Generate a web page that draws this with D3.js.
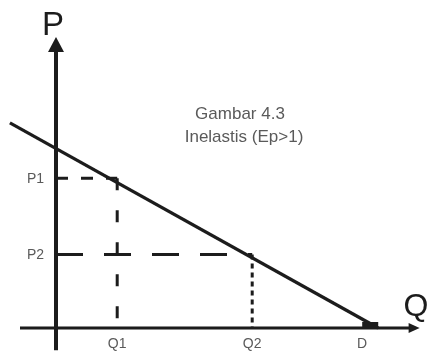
<!DOCTYPE html>
<html>
<head>
<meta charset="utf-8">
<script src="https://cdn.jsdelivr.net/npm/d3@7"></script>
<style>
  body { margin: 0; background: #fff; }
  svg { display: block; }
</style>
</head>
<body>
<svg id="chart" width="431" height="357"></svg>
<script>
// values (quantity on x, price on y)
var quantityLabels = ["Q1", "Q2", "D"],
    quantityValues = [1.7, 5.45, 8.5],
    priceLabels = ["P1", "P2"],
    priceValues = [5.2, 2.55],
    demandQ = [-1.28, 8.95],
    demandP = [7.12, 0],
    axisQ = [-1.0, 10.1],
    axisP = [-0.77, 10.1],
    titleLines = ["Gambar 4.3", "Inelastis (Ep>1)"];

var width = 431,
    height = 357,
    ink = "#1c1c1c",
    textGrey = "#5a5a5a";

var svg = d3.select("#chart");

// the source picture is a soft scan, so blur a little
svg.append("defs").append("filter")
    .attr("id", "soft")
    .append("feGaussianBlur")
    .attr("stdDeviation", 0.75);

var g = svg.append("g").attr("filter", "url(#soft)");

var x = d3.scaleLinear().domain([0, 10]).range([56, 416]),
    y = d3.scaleLinear().domain([0, 10]).range([328, 40]);

// guide lines first so the axes sit on top
var pointQ = quantityValues.slice(0, 2);

// P1 and P2 horizontals
var hDash = ["12,13", "27,21"];
priceValues.forEach(function(p, i) {
    g.append("line")
        .attr("x1", x(0)).attr("x2", x(pointQ[i]))
        .attr("y1", y(p)).attr("y2", y(p))
        .attr("stroke", ink)
        .attr("stroke-width", 3)
        .attr("stroke-dasharray", hDash[i]);
});

// Q1 and Q2 verticals, dashes counted from the top end
var vDash = ["12,20", "5,4"];
pointQ.forEach(function(q, i) {
    g.append("line")
        .attr("x1", x(q)).attr("x2", x(q))
        .attr("y1", y(priceValues[i])).attr("y2", y(0))
        .attr("stroke", ink)
        .attr("stroke-width", 3)
        .attr("stroke-dasharray", vDash[i]);
});

// demand line
var demand = demandQ.map(function(q, i) { return [q, demandP[i]]; });
g.append("path")
    .datum(demand)
    .attr("d", d3.line().x(function(d) { return x(d[0]); }).y(function(d) { return y(d[1]); }))
    .attr("fill", "none")
    .attr("stroke", ink)
    .attr("stroke-width", 3.2);

// little dark blob where the line lands on the Q axis
var end = demand[demand.length - 1];
g.append("rect")
    .attr("x", x(end[0]) - 16)
    .attr("y", y(end[1]) - 6)
    .attr("width", 16)
    .attr("height", 6)
    .attr("fill", ink);

// axes
var tipX = x(axisQ[1]), tipY = y(axisP[1]);
g.append("line")
    .attr("x1", x(axisQ[0])).attr("x2", tipX - 10)
    .attr("y1", y(0)).attr("y2", y(0))
    .attr("stroke", ink)
    .attr("stroke-width", 3);
g.append("path")
    .attr("d", "M" + tipX + "," + y(0) + "L" + (tipX - 11) + "," + (y(0) - 5) + "L" + (tipX - 11) + "," + (y(0) + 5) + "Z")
    .attr("fill", ink);

g.append("line")
    .attr("x1", x(0)).attr("x2", x(0))
    .attr("y1", y(axisP[0])).attr("y2", tipY + 12)
    .attr("stroke", ink)
    .attr("stroke-width", 4);
g.append("path")
    .attr("d", "M" + x(0) + "," + tipY + "L" + (x(0) - 8) + "," + (tipY + 15) + "L" + (x(0) + 8) + "," + (tipY + 15) + "Z")
    .attr("fill", ink);

// axis names
g.append("text")
    .attr("x", x(0) - 3)
    .attr("y", 35)
    .attr("text-anchor", "middle")
    .attr("font-family", "Liberation Sans, Arial, sans-serif")
    .attr("font-size", 33)
    .attr("fill", ink)
    .text("P");
g.append("text")
    .attr("x", tipX - 16)
    .attr("y", 316)
    .attr("font-family", "Liberation Sans, Arial, sans-serif")
    .attr("font-size", 32)
    .attr("fill", ink)
    .text("Q");

// tick labels
g.selectAll(".plabel")
    .data(priceLabels)
    .enter().append("text")
    .attr("class", "plabel")
    .attr("x", x(0) - 12)
    .attr("y", function(d, i) { return y(priceValues[i]); })
    .attr("dy", "0.35em")
    .attr("text-anchor", "end")
    .attr("font-family", "Liberation Sans, Arial, sans-serif")
    .attr("font-size", 14)
    .attr("fill", textGrey)
    .text(function(d) { return d; });

g.selectAll(".qlabel")
    .data(quantityLabels)
    .enter().append("text")
    .attr("class", "qlabel")
    .attr("x", function(d, i) { return x(quantityValues[i]); })
    .attr("y", y(0) + 20)
    .attr("text-anchor", "middle")
    .attr("font-family", "Liberation Sans, Arial, sans-serif")
    .attr("font-size", 14)
    .attr("fill", textGrey)
    .text(function(d) { return d; });

// caption
g.selectAll(".title")
    .data(titleLines)
    .enter().append("text")
    .attr("class", "title")
    .attr("x", function(d, i) { return i === 0 ? 240 : 244; })
    .attr("y", function(d, i) { return 119 + i * 23; })
    .attr("text-anchor", "middle")
    .attr("font-family", "Liberation Sans, Arial, sans-serif")
    .attr("font-size", 17)
    .attr("fill", textGrey)
    .text(function(d) { return d; });
</script>
</body>
</html>
